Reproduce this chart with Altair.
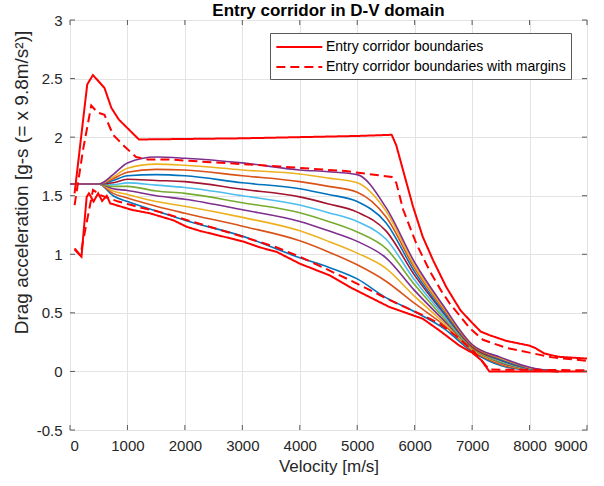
import altair as alt
import pandas as pd

# ---------------- data ----------------
# family of trajectories (11 curves, bottom -> top), D in g at velocities V_FAM
V_FAM = [0, 500, 750, 1000, 1500, 2000, 3000, 4000, 4500, 5000, 5500, 6000, 6500, 7000, 7500, 8000, 8500]
C01 = [1.6, 1.6, 1.50, 1.45, 1.37, 1.29, 1.155, 0.97, 0.89, 0.79, 0.63, 0.51, 0.37, 0.17, 0.05, 0.010, 0.0]
C02 = [1.6, 1.6, 1.52, 1.48, 1.41, 1.35, 1.24, 1.115, 1.02, 0.91, 0.77, 0.58, 0.40, 0.18, 0.06, 0.012, 0.0]
C03 = [1.6, 1.6, 1.54, 1.51, 1.45, 1.41, 1.315, 1.20, 1.11, 1.01, 0.88, 0.64, 0.42, 0.19, 0.07, 0.015, 0.0]
C04 = [1.6, 1.6, 1.56, 1.545, 1.50, 1.47, 1.38, 1.28, 1.20, 1.11, 0.97, 0.69, 0.44, 0.20, 0.075, 0.017, 0.0]
C05 = [1.6, 1.6, 1.58, 1.58, 1.54, 1.52, 1.44, 1.355, 1.28, 1.19, 1.05, 0.74, 0.46, 0.20, 0.08, 0.020, 0.0]
C06 = [1.6, 1.6, 1.595, 1.61, 1.59, 1.57, 1.50, 1.42, 1.355, 1.28, 1.13, 0.78, 0.48, 0.21, 0.09, 0.022, 0.0]
C07 = [1.6, 1.6, 1.61, 1.64, 1.63, 1.62, 1.555, 1.49, 1.43, 1.36, 1.20, 0.82, 0.50, 0.21, 0.095, 0.025, 0.0]
C08 = [1.6, 1.6, 1.63, 1.67, 1.68, 1.67, 1.61, 1.56, 1.51, 1.45, 1.27, 0.85, 0.51, 0.22, 0.10, 0.027, 0.0]
C09 = [1.6, 1.6, 1.645, 1.70, 1.725, 1.72, 1.67, 1.62, 1.58, 1.53, 1.32, 0.88, 0.53, 0.22, 0.11, 0.030, 0.0]
C10 = [1.6, 1.6, 1.66, 1.735, 1.77, 1.76, 1.72, 1.685, 1.65, 1.61, 1.37, 0.90, 0.545, 0.23, 0.115, 0.032, 0.0]
C11 = [1.6, 1.6, 1.68, 1.78, 1.83, 1.82, 1.78, 1.72, 1.705, 1.68, 1.40, 0.93, 0.56, 0.23, 0.12, 0.035, 0.0]
FAMILY = [C01, C02, C03, C04, C05, C06, C07, C08, C09, C10, C11]
FAMILY_COLORS = ["#0072BD", "#D95319", "#EDB120", "#7E2F8E", "#77AC30", "#4DBEEE",
                 "#A2142F", "#0072BD", "#D95319", "#EDB120", "#7E2F8E"]

# corridor boundaries
UP_V = [80, 300, 400, 600, 720, 850, 1200, 3000, 5000, 5600, 5680, 5830, 5970, 6140, 6320, 6550,
        6800, 7010, 7150, 7300, 7600, 8000, 8100, 8250, 8500, 9000]
UP_D = [1.52, 2.45, 2.53, 2.42, 2.25, 2.15, 1.98, 1.99, 2.01, 2.02, 1.93, 1.66, 1.41, 1.15, 0.95, 0.72,
        0.52, 0.41, 0.34, 0.31, 0.26, 0.22, 0.20, 0.155, 0.125, 0.11]
LO_V = [80, 200, 290, 330, 410, 490, 560, 640, 700, 1070, 1390, 1800, 2030, 2260, 3010, 3300, 3600,
        4000, 4520, 4870, 5560, 6140, 6430, 6780, 7000, 7160, 7300, 9000]
LO_D = [1.05, 0.98, 1.49, 1.52, 1.45, 1.52, 1.455, 1.50, 1.435, 1.38, 1.35, 1.29, 1.235, 1.20, 1.11, 1.06, 1.02,
        0.92, 0.82, 0.72, 0.55, 0.45, 0.35, 0.22, 0.16, 0.096, 0.0, 0.0]
UPM_V = [80, 230, 370, 480, 600, 750, 950, 1150, 1350, 1700, 2000, 3000, 3650, 4200, 4800, 5600, 5680,
         5800, 6030, 6260, 6460, 6610, 6960, 7190, 7600, 8100, 8400, 9000]
UPM_D = [1.42, 1.90, 2.27, 2.21, 2.19, 2.02, 1.92, 1.83, 1.81, 1.81, 1.80, 1.77, 1.75, 1.73, 1.71, 1.66, 1.61,
         1.38, 1.09, 0.86, 0.69, 0.58, 0.37, 0.27, 0.20, 0.15, 0.12, 0.09]
LOM_V = [80, 180, 400, 550, 840, 1070, 1300, 1500, 1910, 2430, 3010, 3590, 4000, 4870, 5560, 6140, 6430,
         6780, 7010, 7160, 7300, 9000]
LOM_D = [1.04, 0.99, 1.55, 1.50, 1.45, 1.42, 1.39, 1.37, 1.31, 1.235, 1.15, 1.06, 0.98, 0.78, 0.61, 0.48, 0.41,
         0.28, 0.18, 0.096, 0.016, 0.01]

LBL_SOLID = "Entry corridor boundaries"
LBL_DASH = "Entry corridor boundaries with margins"

X_TICKS = [0, 1000, 2000, 3000, 4000, 5000, 6000, 7000, 8000, 9000]
Y_TICKS = [-0.5, 0, 0.5, 1, 1.5, 2, 2.5, 3]

W, H = 517, 410
FONT = "Liberation Sans"
FRAME = "#5a5a5a"

# ---------------- tables ----------------
fam_rows = []
for i, curve in enumerate(FAMILY):
    for v, d in zip(V_FAM, curve):
        fam_rows.append({"v": v, "D": d, "k": f"c{i+1:02d}"})
fam = pd.DataFrame(fam_rows)

b_rows = []
for name, vs, ds, typ in [("up", UP_V, UP_D, LBL_SOLID), ("lo", LO_V, LO_D, LBL_SOLID),
                          ("upm", UPM_V, UPM_D, LBL_DASH), ("lom", LOM_V, LOM_D, LBL_DASH)]:
    for v, d in zip(vs, ds):
        b_rows.append({"v": v, "D": d, "seg": name, "type": typ})
bnd = pd.DataFrame(b_rows)

xt = pd.DataFrame({"v": X_TICKS})
yt = pd.DataFrame({"D": Y_TICKS})

xscale = alt.Scale(domain=[0, 9000], nice=False, zero=False)
yscale = alt.Scale(domain=[-0.5, 3], nice=False, zero=False)

xaxis = alt.Axis(values=X_TICKS, format="d", title="Velocity [m/s]", labelPadding=8,
                 titlePadding=5)
yaxis = alt.Axis(values=Y_TICKS, labelExpr="'' + datum.value",
                 title="Drag acceleration [g-s (= x 9.8m/s²)]", labelPadding=8,
                 titleAngle=270, titleX=-39, titleY=162, titleAlign="center",
                 titleBaseline="bottom", titleFontSize=19)

family = alt.Chart(fam).mark_line(strokeWidth=1.6, interpolate="monotone").encode(
    x=alt.X("v:Q", scale=xscale, axis=xaxis),
    y=alt.Y("D:Q", scale=yscale, axis=yaxis),
    color=alt.Color("k:N", scale=alt.Scale(domain=[f"c{i+1:02d}" for i in range(11)],
                                           range=FAMILY_COLORS), legend=None),
)

bounds = alt.Chart(bnd).mark_line(strokeWidth=2, color="#FF0000").encode(
    x=alt.X("v:Q", scale=xscale),
    y=alt.Y("D:Q", scale=yscale),
    detail="seg:N",
    strokeDash=alt.StrokeDash(
        "type:N",
        scale=alt.Scale(domain=[LBL_SOLID, LBL_DASH], range=[[1, 0], [9, 5]]),
        legend=alt.Legend(
            title=None, orient="none", legendX=200, legendY=13, direction="vertical",
            symbolType="M-1,0H5", symbolStrokeColor="#FF0000", symbolStrokeWidth=2,
            symbolSize=235, labelFontSize=14, labelFont=FONT, labelColor="black",
            strokeColor=FRAME, fillColor="white", padding=5, rowPadding=4,
            labelOffset=33, labelLimit=400,
        ),
    ),
)

tb = alt.Chart(xt).mark_rule(color=FRAME, strokeWidth=1).encode(
    x=alt.X("v:Q", scale=xscale), y=alt.value(H), y2=alt.value(H - 5))
tt = alt.Chart(xt).mark_rule(color=FRAME, strokeWidth=1).encode(
    x=alt.X("v:Q", scale=xscale), y=alt.value(0), y2=alt.value(5))
tl = alt.Chart(yt).mark_rule(color=FRAME, strokeWidth=1).encode(
    y=alt.Y("D:Q", scale=yscale), x=alt.value(0), x2=alt.value(5))
tr = alt.Chart(yt).mark_rule(color=FRAME, strokeWidth=1).encode(
    y=alt.Y("D:Q", scale=yscale), x=alt.value(W), x2=alt.value(W - 5))

chart = alt.layer(family, bounds, tb, tt, tl, tr).properties(
    width=W, height=H,
    autosize=alt.AutoSizeParams(type="none"),
    padding={"left": 70, "top": 20, "right": 17, "bottom": 56},
    background="white",
    title=alt.Title("Entry corridor in D-V domain", fontSize=17, fontWeight="bold",
                    font=FONT, anchor="middle", offset=-7, color="black"),
).configure_view(
    stroke=FRAME, strokeWidth=1
).configure_axis(
    domain=False, ticks=False, grid=True, gridColor="#e3e3e3", gridWidth=1,
    labelFont=FONT, labelFontSize=15, labelColor="#262626",
    titleFont=FONT, titleFontSize=17, titleFontWeight="normal", titleColor="#262626",
)

chart.save("out.html", embed_options={"renderer": "svg", "actions": False})
